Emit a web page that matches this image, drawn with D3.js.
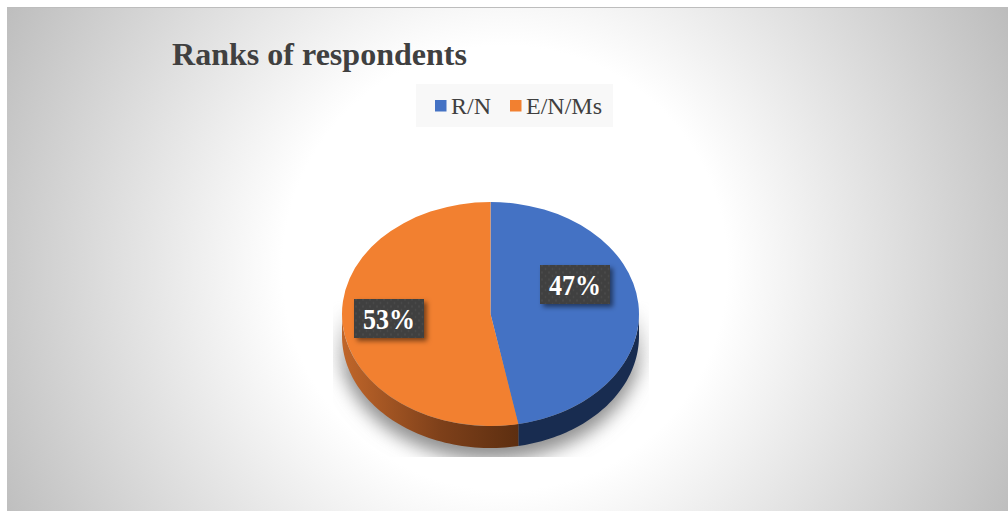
<!DOCTYPE html>
<html>
<head>
<meta charset="utf-8">
<script src="https://cdnjs.cloudflare.com/ajax/libs/d3/7.8.5/d3.min.js"></script>
<style>
  html, body { margin: 0; padding: 0; background: #fff; }
  svg { display: block; }
  text { font-family: "Liberation Serif", serif; }
</style>
</head>
<body>
<svg id="chart" width="1008" height="511"></svg>
<script>
const chartTitle = "Ranks of respondents";
const categories = ["R/N", "E/N/Ms"];
const shares = [47, 53];
const colors = ["#4472c4", "#f28030"];

const svg = d3.select("#chart");
const defs = svg.append("defs");

// Panel background: white centre fading to grey at the corners
const bg = defs.append("radialGradient").attr("id", "panelBg")
  .attr("gradientUnits", "userSpaceOnUse")
  .attr("cx", 505).attr("cy", 268).attr("r", 570);
bg.append("stop").attr("offset", 0.39).attr("stop-color", "#ffffff");
bg.append("stop").attr("offset", 1).attr("stop-color", "#bcbcbc");

svg.append("rect").attr("x", 7).attr("y", 7).attr("width", 1001).attr("height", 504)
  .attr("fill", "url(#panelBg)");
svg.append("line").attr("x1", 7).attr("x2", 1008).attr("y1", 7.5).attr("y2", 7.5)
  .attr("stroke", "#bdbdbd");

// Title
svg.append("text").attr("x", 172).attr("y", 65)
  .attr("font-size", 32).attr("font-weight", "bold").attr("fill", "#404040")
  .attr("textLength", 295).attr("lengthAdjust", "spacingAndGlyphs")
  .text(chartTitle);

// Legend
const legend = svg.append("g");
legend.append("rect").attr("x", 416).attr("y", 84).attr("width", 197).attr("height", 43)
  .attr("fill", "#f8f8f8");
const legendX = d3.scaleOrdinal().domain(categories).range([435, 510]);
categories.forEach((c, i) => {
  legend.append("rect").attr("x", legendX(c)).attr("y", 100)
    .attr("width", 11.5).attr("height", 11.5).attr("fill", colors[i]);
  legend.append("text").attr("x", legendX(c) + 16).attr("y", 114)
    .attr("font-size", 24).attr("fill", "#404040").text(c);
});

// Pie geometry: a circle of radius rx squashed vertically, with a side wall below it
const cx = 490.5, cy = 314, rx = 148.5, ry = 112, depth = 22;
const pie = d3.pie().sort(null).value(d => d);
const slices = pie(shares);
const arc = d3.arc().innerRadius(0).outerRadius(rx);
const px = a => cx + rx * Math.sin(a);
const py = a => cy - ry * Math.cos(a);

// Soft drop shadow, boxed in and faded out towards the top
const blur = defs.append("filter").attr("id", "pieShadow")
  .attr("x", "-20%").attr("y", "-20%").attr("width", "140%").attr("height", "140%");
blur.append("feGaussianBlur").attr("stdDeviation", 9);
defs.append("clipPath").attr("id", "shadowClip").append("rect")
  .attr("x", 333).attr("y", 290).attr("width", 316).attr("height", 167);
const fade = defs.append("linearGradient").attr("id", "shadowFade")
  .attr("gradientUnits", "userSpaceOnUse")
  .attr("x1", 0).attr("x2", 0).attr("y1", 300).attr("y2", 375);
fade.append("stop").attr("offset", 0).attr("stop-color", "#000");
fade.append("stop").attr("offset", 1).attr("stop-color", "#fff");
defs.append("mask").attr("id", "shadowMask")
  .attr("maskUnits", "userSpaceOnUse")
  .attr("x", 300).attr("y", 280).attr("width", 380).attr("height", 200)
  .append("rect").attr("x", 300).attr("y", 280).attr("width", 380).attr("height", 200)
  .attr("fill", "url(#shadowFade)");
svg.append("g").attr("clip-path", "url(#shadowClip)").attr("mask", "url(#shadowMask)")
  .append("ellipse")
  .attr("cx", cx).attr("cy", cy + depth + 6).attr("rx", rx + 3).attr("ry", ry + 6)
  .attr("fill", "#8f8f8f").attr("filter", "url(#pieShadow)");

// Side wall shading
const sideOrange = defs.append("linearGradient").attr("id", "sideOrange")
  .attr("gradientUnits", "userSpaceOnUse")
  .attr("x1", cx - rx).attr("x2", cx + 30).attr("y1", 0).attr("y2", 0);
sideOrange.append("stop").attr("offset", 0).attr("stop-color", "#c0662a");
sideOrange.append("stop").attr("offset", 0.55).attr("stop-color", "#7e401a");
sideOrange.append("stop").attr("offset", 1).attr("stop-color", "#5c2e10");
const sideFills = ["#182c50", "url(#sideOrange)"];

// Side wall runs along the front half of the rim only
const front = [Math.PI / 2, 3 * Math.PI / 2];
slices.forEach((s, i) => {
  const a0 = Math.max(s.startAngle, front[0]);
  const a1 = Math.min(s.endAngle, front[1]);
  if (a1 <= a0) return;
  const angles = d3.range(0, 61).map(k => a0 + (a1 - a0) * k / 60);
  const path = d3.path();
  angles.forEach((a, k) => k ? path.lineTo(px(a), py(a)) : path.moveTo(px(a), py(a)));
  angles.slice().reverse().forEach(a => path.lineTo(px(a), py(a) + depth));
  path.closePath();
  svg.append("path").attr("d", path.toString()).attr("fill", sideFills[i]);
});

// Top face
svg.append("g")
  .attr("transform", `translate(${cx},${cy}) scale(1,${ry / rx})`)
  .selectAll("path").data(slices).join("path")
  .attr("d", arc)
  .attr("fill", (d, i) => colors[i]);

// Data labels: dark dotted tags with a drop shadow
const dots = defs.append("pattern").attr("id", "tagDots")
  .attr("patternUnits", "userSpaceOnUse").attr("width", 7).attr("height", 7);
dots.append("rect").attr("width", 7).attr("height", 7).attr("fill", "#404040");
dots.append("circle").attr("cx", 2).attr("cy", 2).attr("r", 0.9).attr("fill", "#4d4d4d");
dots.append("circle").attr("cx", 5.5).attr("cy", 5.5).attr("r", 0.9).attr("fill", "#4d4d4d");
const tagShadow = defs.append("filter").attr("id", "tagShadow")
  .attr("x", "-20%").attr("y", "-30%").attr("width", "150%").attr("height", "170%");
tagShadow.append("feDropShadow").attr("dx", 3).attr("dy", 3).attr("stdDeviation", 2.5)
  .attr("flood-color", "#000").attr("flood-opacity", 0.5);

const tagCenters = [[575, 284.5], [389, 318.5]];
const tags = svg.append("g").selectAll("g").data(slices).join("g")
  .attr("transform", (d, i) => `translate(${tagCenters[i]})`);
tags.append("rect").attr("x", -35).attr("y", -19.5).attr("width", 70).attr("height", 39)
  .attr("fill", "url(#tagDots)").attr("filter", "url(#tagShadow)");
tags.append("text").attr("text-anchor", "middle").attr("y", 10)
  .attr("font-size", 29).attr("font-weight", "bold").attr("fill", "#fff")
  .attr("textLength", 52).attr("lengthAdjust", "spacingAndGlyphs")
  .text(d => `${d.data}%`);
</script>
</body>
</html>
